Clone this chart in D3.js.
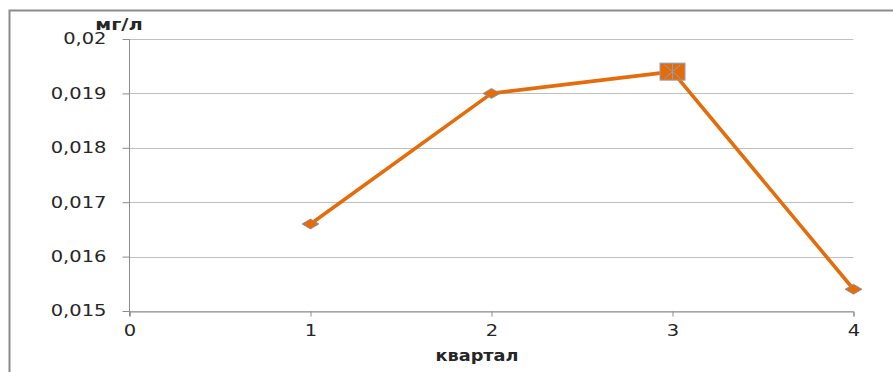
<!DOCTYPE html>
<html>
<head>
<meta charset="utf-8">
<script src="https://cdn.jsdelivr.net/npm/d3@7/dist/d3.min.js"></script>
<style>
  html, body { margin: 0; padding: 0; background: #fff; }
  svg { display: block; font-family: "DejaVu Sans", "Open Sans", sans-serif; }
</style>
</head>
<body>
<svg id="chart" width="893" height="372"></svg>
<script>
// Quarterly concentration, mg/l
const quarters = [1, 2, 3, 4];
const values = [0.0166, 0.019, 0.0194, 0.0154];
const yTicks = [0.015, 0.016, 0.017, 0.018, 0.019, 0.02];
const xTicks = [0, 1, 2, 3, 4];
const yTitle = "мг/л";
const xTitle = "квартал";

const svg = d3.select("#chart");
const orange = "#E46C0A";
const textColor = "#262626";
const stretch = 1.3; // horizontally widened lettering

// outer frame
svg.append("rect")
  .attr("x", 9.5).attr("y", 10.5)
  .attr("width", 900).attr("height", 400)
  .attr("fill", "none").attr("stroke", "#8c8c8c").attr("stroke-width", 2);

const x = d3.scaleLinear().domain([0, 4]).range([129.5, 853.5]);
const y = d3.scaleLinear().domain([0.015, 0.02]).range([311, 39]);

const fmt = d => d3.format(".3~f")(d).replace(".", ",");

// horizontal gridlines
svg.append("g").selectAll("line").data(yTicks).join("line")
  .attr("x1", x(0)).attr("x2", x(4))
  .attr("y1", d => Math.round(y(d)) + 0.5).attr("y2", d => Math.round(y(d)) + 0.5)
  .attr("stroke", "#bfbfbf").attr("stroke-width", 1.2);

// y axis
const yAxis = svg.append("g")
  .attr("transform", `translate(${x(0)},0)`)
  .call(d3.axisLeft(y).tickValues(yTicks).tickFormat(fmt).tickSize(7));
yAxis.select(".domain").attr("stroke", "#8c8c8c").attr("d", `M0,${y(0.02)}V${y(0.015) + 5}`);
yAxis.selectAll(".tick line").attr("stroke", "#8c8c8c");
yAxis.selectAll(".tick text")
  .attr("x", 0).attr("text-anchor", "end")
  .attr("transform", `translate(-23,0) scale(${stretch},1)`)
  .attr("font-size", 15).attr("fill", textColor)
  .attr("font-family", "DejaVu Sans, sans-serif");

// x axis
const xAxis = svg.append("g")
  .attr("transform", `translate(0,${Math.round(y(0.015)) + 0.5})`)
  .call(d3.axisBottom(x).tickValues(xTicks).tickFormat(d3.format("d")).tickSize(5).tickPadding(9));
xAxis.select(".domain").attr("stroke", "#8c8c8c");
xAxis.selectAll(".tick line").attr("stroke", "#8c8c8c");
xAxis.selectAll(".tick text")
  .attr("transform", `scale(${stretch},1)`)
  .attr("font-size", 15).attr("fill", textColor)
  .attr("font-family", "DejaVu Sans, sans-serif");

// axis titles
svg.append("text").attr("transform", `translate(119,30) scale(1.3,1)`)
  .attr("text-anchor", "middle")
  .attr("font-size", 15).attr("font-weight", "bold").attr("fill", textColor).text(yTitle);
svg.append("text").attr("transform", `translate(477,361) scale(1.18,1)`)
  .attr("text-anchor", "middle")
  .attr("font-size", 15).attr("font-weight", "bold").attr("fill", textColor).text(xTitle);

// series line
const pts = quarters.map((q, i) => [q, values[i]]);
svg.append("path").datum(pts)
  .attr("d", d3.line().x(d => x(d[0])).y(d => y(d[1])))
  .attr("fill", "none").attr("stroke", orange).attr("stroke-width", 3.6)
  .attr("stroke-linejoin", "round");

// flattened diamond markers
svg.append("g").selectAll("path").data(pts.filter(d => d[0] !== 3)).join("path")
  .attr("transform", d => `translate(${x(d[0])},${y(d[1])})`)
  .attr("d", "M-8.5,0L0,-5L8.5,0L0,5Z")
  .attr("fill", orange).attr("stroke", "#7f93b0").attr("stroke-width", 0.8);

// highlighted point in quarter 3
const hp = pts.find(d => d[0] === 3);
const hx = x(hp[0]), hy = y(hp[1]);
const hg = svg.append("g").attr("transform", `translate(${hx},${hy})`);
hg.append("rect").attr("x", -12.5).attr("y", -8.5).attr("width", 25).attr("height", 17)
  .attr("fill", orange).attr("stroke", "#8aa0bf").attr("stroke-width", 1);
hg.append("path").attr("d", "M-8,-7L8,7M-8,7L8,-7M0,-8V8")
  .attr("stroke", "#8aa0bf").attr("stroke-width", 1).attr("fill", "none");
</script>
</body>
</html>
